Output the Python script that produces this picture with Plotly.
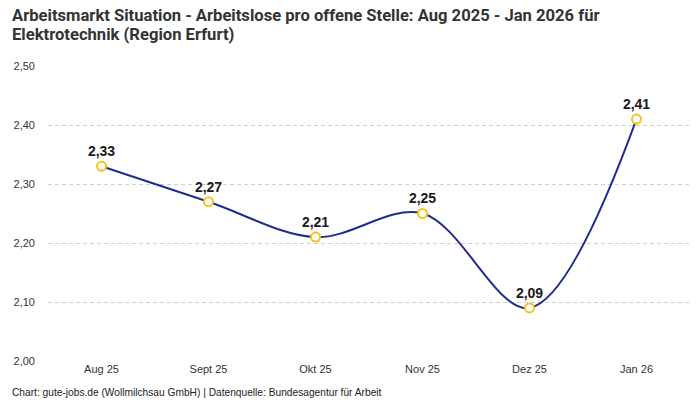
import plotly.graph_objects as go

# Data
months = ['Aug 25', 'Sept 25', 'Okt 25', 'Nov 25', 'Dez 25', 'Jan 26']
ratio = [2.33, 2.27, 2.21, 2.25, 2.09, 2.41]
labels = ['2,33', '2,27', '2,21', '2,25', '2,09', '2,41']
y_ticks = [2.0, 2.1, 2.2, 2.3, 2.4, 2.5]

title_lines = [
    'Arbeitsmarkt Situation - Arbeitslose pro offene Stelle: Aug 2025 - Jan 2026 für',
    'Elektrotechnik (Region Erfurt)',
]
source = 'Chart: gute-jobs.de (Wollmilchsau GmbH) | Datenquelle: Bundesagentur für Arbeit'

fig = go.Figure()

fig.add_trace(go.Scatter(
    x=months,
    y=ratio,
    mode='lines+markers+text',
    line=dict(color='#1f2d8f', width=2, shape='spline', smoothing=1),
    marker=dict(size=9, color='white', line=dict(color='#f7c21a', width=2)),
    text=labels,
    textposition='top center',
    textfont=dict(family='Liberation Sans', size=14, color='#1a1a1a', weight='bold'),
    hoverinfo='x+y',
    cliponaxis=False,
))

fig.update_layout(
    width=700,
    height=400,
    margin=dict(l=48, r=10, t=66, b=39),
    paper_bgcolor='white',
    plot_bgcolor='white',
    separators=',.',
    showlegend=False,
    font=dict(family='Liberation Sans', size=11, color='#333333'),
    xaxis=dict(
        range=[-0.5, 5.5],
        showgrid=False,
        showline=False,
        ticks='',
        tickfont=dict(size=11),
    ),
    yaxis=dict(
        range=[2.0, 2.5],
        tickvals=y_ticks,
        tickformat='.2f',
        showgrid=True,
        gridcolor='#cfcfcf',
        griddash='4px,3px',
        gridwidth=1,
        zeroline=False,
        showline=False,
        ticks='',
        ticklabelstandoff=12,
        tickfont=dict(size=11),
    ),
)

# Title as two annotations for tight line spacing
for i, line in enumerate(title_lines):
    fig.add_annotation(
        text=line,
        xref='paper', yref='paper',
        x=-38 / 642, y=1 + (62 - 19 * i) / 295,
        xanchor='left', yanchor='top', showarrow=False,
        font=dict(family='Roboto', size=16.6, color='#333333', weight='bold'),
    )

fig.add_annotation(
    text=source,
    xref='paper', yref='paper', x=-38 / 642, y=-24 / 295,
    xanchor='left', yanchor='top', showarrow=False,
    font=dict(family='Liberation Sans', size=10.2, color='#222222'),
)

fig.write_html(
    'out.html',
    config={'displayModeBar': False},
    post_script='document.body.style.margin="0";',
)
